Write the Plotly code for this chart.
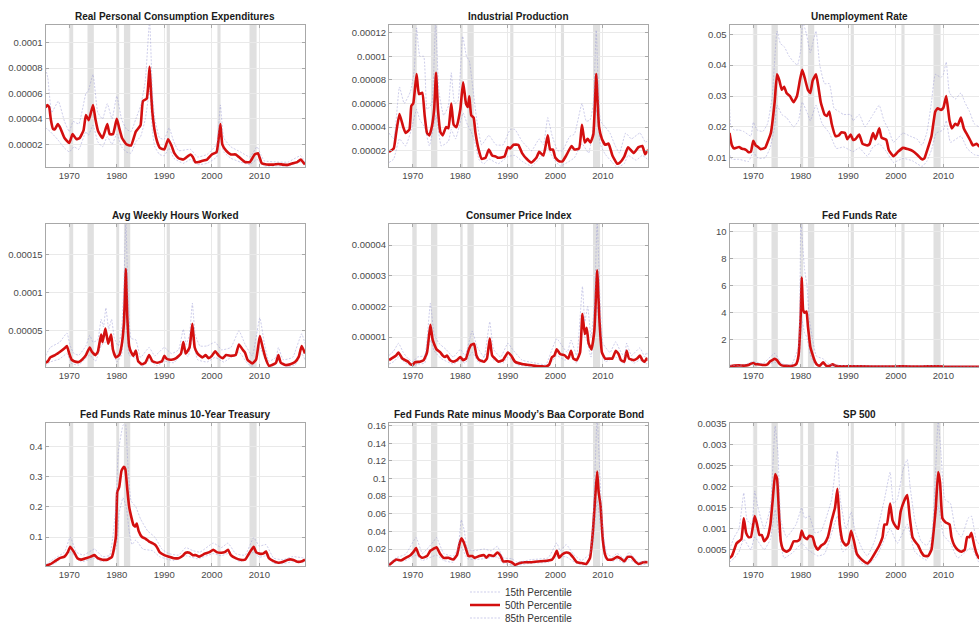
import plotly.graph_objects as go

# ---------------- data ----------------
RECESSIONS = [(1969.92, 1970.83), (1973.83, 1975.17), (1980.0, 1980.5),
              (1981.5, 1982.83), (1990.5, 1991.17), (2001.17, 2001.83),
              (2007.92, 2009.42)]

X_TICKS = [1970, 1980, 1990, 2000, 2010]

# Real Personal Consumption Expenditures (units of 1e-6)
pce_p15 = [(1965.0,33),(1966.0,30),(1967.5,24),(1969.0,17),(1970.0,14),(1971.0,18),(1972.0,16),(1973.5,30),(1974.0,27),(1975.0,35),(1976.0,22),(1977.0,18),(1978.0,26),(1979.0,20),(1980.0,28),(1981.0,18),(1982.0,14),(1983.0,13),(1984.0,22),(1985.0,26),(1986.0,40),(1986.9,62),(1987.5,30),(1988.0,18),(1989.0,12),(1990.0,11),(1991.0,17),(1992.0,9),(1994.0,5),(1995.5,8),(1997.0,4),(1999.0,5),(2001.0,10),(2001.8,27),(2002.5,14),(2004.0,9),(2006.0,6),(2008.0,4),(2009.5,8),(2011.0,3),(2014.0,3),(2016.0,2.8),(2018.7,6),(2019.6,3)]
pce_p50 = [(1965.0,49),(1965.4,51),(1965.8,49),(1966.1,40),(1966.6,32),(1967.0,32),(1967.6,36),(1968.1,33),(1969.0,25),(1970.0,21),(1970.7,28),(1971.5,24),(1972.2,25),(1973.0,31),(1973.5,43),(1974.1,39),(1975.0,51),(1975.5,40),(1976.1,30),(1977.0,25),(1978.0,36),(1978.5,28),(1979.2,28),(1980.0,40),(1980.5,33),(1981.1,25),(1982.0,20),(1983.0,19),(1984.0,30),(1985.0,35),(1985.5,54),(1986.3,56),(1986.9,81),(1987.2,62),(1987.5,45),(1988.0,30),(1988.5,22),(1989.1,17),(1990.0,16),(1990.8,24),(1991.5,19),(1992.1,13),(1993.0,9),(1994.0,8),(1995.5,12),(1996.0,10),(1996.5,6),(1997.2,6),(1998.0,7),(1999.0,8),(2000.0,12),(2001.0,14),(2001.8,36),(2002.2,20),(2003.0,15),(2004.0,12),(2005.0,12),(2006.0,9),(2007.0,6),(2008.0,6),(2009.0,12),(2009.7,13),(2010.1,9),(2010.5,5),(2011.0,4.5),(2012.0,4),(2013.0,4),(2014.0,4.5),(2015.0,4),(2016.0,3.8),(2017.0,5),(2018.0,6),(2018.7,8),(2019.6,4)]
pce_p85 = [(1965.0,80),(1965.5,72),(1966.3,45),(1967.7,54),(1969.0,38),(1970.0,30),(1970.8,38),(1972.0,36),(1973.5,60),(1974.0,62),(1975.0,75),(1976.0,45),(1977.0,40),(1978.0,52),(1979.0,40),(1980.0,58),(1981.0,40),(1982.0,32),(1983.0,30),(1984.0,40),(1985.0,50),(1986.0,70),(1986.9,118),(1987.5,60),(1988.0,40),(1989.0,25),(1990.0,24),(1991.0,33),(1992.0,22),(1993.0,15),(1995.5,16),(1997.0,10),(1999.0,12),(2001.0,20),(2001.8,51),(2002.5,25),(2004.0,18),(2006.0,14),(2008.0,10),(2009.5,18),(2010.3,12),(2011.0,7),(2014.0,6),(2016.0,6),(2018.7,11),(2019.6,6)]

# Industrial Production (1e-6)
ip_p15 = [(1965.0,10),(1966.0,13),(1967.2,30),(1968.5,24),(1969.7,38),(1970.8,55),(1971.5,46),(1972.5,40),(1973.5,24),(1974.9,50),(1976.0,24),(1977.5,28),(1978.1,38),(1979.0,30),(1980.6,52),(1981.5,42),(1982.3,36),(1983.0,28),(1984.0,12),(1985.0,9),(1986.0,13),(1988.0,9),(1990.0,15),(1991.5,16),(1993.0,11),(1995.0,7),(1996.6,13),(1998.4,22),(1999.5,14),(2001.0,7),(2002.5,10),(2004.0,14),(2005.6,26),(2007.0,18),(2008.6,55),(2009.5,25),(2010.5,17),(2012.0,10),(2013.0,6),(2014.5,9),(2015.3,16),(2017.0,12),(2018.3,16),(2019.6,12)]
ip_p50 = [(1965.0,19),(1966.0,22),(1966.5,35),(1967.2,51),(1968.0,40),(1968.5,35),(1969.3,38),(1969.7,58),(1970.1,60),(1970.8,85),(1971.3,68),(1972.0,69),(1972.5,50),(1973.0,35),(1973.5,33),(1974.0,40),(1974.5,55),(1974.9,86),(1975.3,55),(1975.8,36),(1976.3,33),(1977.0,40),(1977.5,39),(1978.1,60),(1978.6,42),(1979.2,40),(1980.0,55),(1980.6,78),(1981.2,60),(1981.6,57),(1981.9,66),(1982.3,50),(1982.8,48),(1983.2,35),(1983.8,22),(1984.5,13),(1985.3,14),(1986.0,21),(1986.7,16),(1987.5,15),(1988.0,14),(1989.3,15),(1990.0,23),(1990.5,22),(1991.2,25),(1992.2,25),(1993.0,18),(1994.0,13),(1995.0,10),(1996.0,14),(1996.6,19),(1997.5,16),(1998.4,33),(1998.9,21),(1999.5,21),(2000.0,14),(2000.8,11),(2001.5,11),(2002.3,16),(2003.4,24),(2004.0,21),(2005.0,22),(2005.6,42),(2006.2,27),(2006.8,30),(2007.4,27),(2008.0,34),(2008.6,85),(2009.2,40),(2009.8,30),(2010.5,25),(2011.2,26),(2012.0,16),(2013.0,9),(2013.6,10),(2014.5,15),(2015.3,23),(2016.5,18),(2017.5,23),(2018.3,24),(2018.9,17),(2019.6,21)]
ip_p85 = [(1965.0,35),(1966.0,30),(1967.2,74),(1968.2,60),(1969.5,70),(1970.3,88),(1970.8,124),(1971.5,100),(1972.3,100),(1973.0,55),(1974.0,60),(1974.8,130),(1975.5,70),(1976.5,50),(1977.5,58),(1978.1,86),(1978.8,60),(1979.5,62),(1980.5,117),(1981.3,100),(1981.9,96),(1982.5,78),(1983.5,45),(1984.5,25),(1986.0,33),(1987.5,25),(1989.0,25),(1990.5,38),(1991.5,38),(1993.0,28),(1995.0,20),(1996.6,30),(1997.5,25),(1998.4,48),(1999.3,33),(2000.5,20),(2001.5,20),(2003.0,32),(2004.0,34),(2005.6,60),(2006.5,45),(2007.3,46),(2008.0,60),(2008.6,122),(2009.5,45),(2010.5,40),(2011.5,35),(2012.5,25),(2013.5,18),(2014.8,35),(2016.0,30),(2017.8,35),(2019.0,27),(2019.6,30)]

# Unemployment Rate
ur_p15 = [(1965.0,0.011),(1965.5,0.0095),(1967.0,0.0095),(1969.0,0.0088),(1970.0,0.0118),(1971.0,0.0098),(1972.5,0.010),(1973.5,0.013),(1974.5,0.020),(1975.0,0.027),(1976.0,0.024),(1977.0,0.023),(1978.5,0.020),(1979.5,0.022),(1980.3,0.028),(1981.5,0.024),(1982.0,0.022),(1983.2,0.027),(1984.5,0.021),(1986.0,0.018),(1987.5,0.013),(1989.0,0.0135),(1991.0,0.012),(1992.3,0.0132),(1994.0,0.0105),(1995.2,0.0135),(1996.5,0.0145),(1998.0,0.012),(1999.5,0.0085),(2001.5,0.0098),(2003.5,0.009),(2005.5,0.0072),(2006.5,0.0088),(2007.5,0.0125),(2008.5,0.018),(2010.0,0.019),(2010.6,0.022),(2011.5,0.015),(2013.7,0.017),(2015.0,0.013),(2016.5,0.011),(2018.0,0.0105),(2019.6,0.009)]
ur_p50 = [(1965.0,0.018),(1965.5,0.014),(1966.0,0.013),(1967.0,0.0135),(1967.5,0.013),(1968.0,0.0128),(1968.5,0.0125),(1969.0,0.0118),(1969.5,0.012),(1970.0,0.0155),(1970.5,0.014),(1971.0,0.0135),(1971.5,0.0128),(1972.5,0.0132),(1973.0,0.015),(1973.7,0.018),(1974.5,0.028),(1975.0,0.037),(1975.5,0.035),(1976.0,0.032),(1976.5,0.033),(1977.0,0.031),(1977.7,0.030),(1978.5,0.028),(1979.2,0.030),(1979.8,0.035),(1980.3,0.0385),(1980.8,0.036),(1981.5,0.032),(1982.0,0.031),(1982.5,0.035),(1983.2,0.037),(1983.7,0.033),(1984.2,0.028),(1985.0,0.024),(1985.5,0.0235),(1986.0,0.025),(1986.5,0.021),(1987.3,0.017),(1988.0,0.0172),(1988.5,0.0182),(1989.3,0.018),(1989.8,0.016),(1990.5,0.0175),(1991.0,0.0158),(1991.5,0.016),(1992.3,0.0175),(1993.0,0.0145),(1994.0,0.014),(1994.5,0.0145),(1995.2,0.018),(1995.7,0.016),(1996.5,0.0195),(1997.0,0.0165),(1998.0,0.0158),(1998.5,0.0125),(1999.5,0.0105),(2000.5,0.012),(2001.5,0.0132),(2002.5,0.0128),(2003.5,0.0122),(2004.5,0.011),(2005.5,0.0095),(2006.0,0.0098),(2006.5,0.012),(2007.5,0.017),(2008.3,0.025),(2008.8,0.026),(2009.5,0.0255),(2010.0,0.0262),(2010.6,0.030),(2011.3,0.022),(2011.8,0.0195),(2012.5,0.021),(2013.0,0.0205),(2013.7,0.023),(2014.3,0.0195),(2015.0,0.0175),(2015.7,0.0155),(2016.2,0.014),(2017.0,0.0145),(2018.0,0.013),(2019.6,0.012)]
ur_p85 = [(1965.0,0.027),(1965.3,0.020),(1966.0,0.019),(1967.0,0.019),(1968.0,0.0185),(1969.5,0.017),(1970.0,0.0215),(1970.8,0.019),(1972.0,0.0185),(1973.0,0.021),(1974.0,0.030),(1975.0,0.051),(1975.7,0.047),(1976.5,0.046),(1977.5,0.043),(1978.5,0.041),(1979.3,0.040),(1980.0,0.045),(1980.4,0.054),(1981.2,0.050),(1982.0,0.044),(1982.5,0.047),(1983.2,0.051),(1984.0,0.040),(1985.0,0.034),(1986.0,0.034),(1987.0,0.026),(1988.0,0.025),(1989.0,0.024),(1990.5,0.024),(1991.0,0.022),(1992.3,0.024),(1993.5,0.020),(1995.2,0.024),(1996.5,0.027),(1997.5,0.022),(1998.5,0.019),(1999.5,0.015),(2001.5,0.018),(2003.0,0.017),(2004.5,0.016),(2005.5,0.014),(2006.5,0.018),(2007.5,0.028),(2008.3,0.037),(2009.5,0.036),(2010.0,0.037),(2010.6,0.041),(2011.3,0.031),(2012.5,0.029),(2013.7,0.031),(2014.5,0.028),(2015.5,0.025),(2016.5,0.021),(2017.5,0.020),(2019.6,0.018)]

# Avg Weekly Hours Worked (1e-6)
hw_p15 = [(1965.0,4),(1966.0,9),(1968.0,13),(1969.5,20),(1970.5,7),(1972.0,5),(1974.3,18),(1975.5,10),(1976.7,30),(1977.6,35),(1978.8,30),(1980.0,9),(1981.0,18),(1981.9,85),(1982.6,18),(1984.0,14),(1985.3,3),(1986.8,11),(1988.5,4),(1990.0,10),(1992.0,8),(1994.0,22),(1995.0,16),(1995.9,40),(1997.0,12),(1999.0,9),(2000.7,15),(2002.5,9),(2005.7,22),(2007.5,7),(2008.5,3.5),(2010.1,28),(2011.5,8),(2012.5,2.8),(2014.0,11),(2015.5,3),(2017.5,5),(2018.9,20),(2019.6,12)]
hw_p50 = [(1965.0,8),(1965.5,10),(1966.0,15),(1967.0,18),(1967.5,20),(1968.0,22),(1969.0,27),(1969.5,30),(1970.0,20),(1970.5,12),(1971.0,10),(1972.0,9),(1973.0,14),(1973.5,18),(1974.3,28),(1974.8,22),(1975.5,18),(1976.0,22),(1976.7,45),(1977.0,35),(1977.6,53),(1978.2,33),(1978.8,45),(1979.2,25),(1979.8,15),(1980.5,18),(1981.0,30),(1981.5,60),(1981.9,131),(1982.2,70),(1982.6,30),(1983.0,22),(1983.5,17),(1984.0,24),(1984.5,10),(1985.3,6),(1986.0,8),(1986.8,18),(1987.5,10),(1988.5,8),(1989.5,10),(1990.0,17),(1990.5,13),(1991.5,12),(1992.5,14),(1993.5,20),(1994.0,35),(1994.5,20),(1995.3,28),(1995.9,59),(1996.4,28),(1997.0,20),(1998.0,15),(1998.7,18),(1999.3,14),(2000.0,17),(2000.7,23),(2001.5,17),(2002.3,14),(2003.0,18),(2004.0,17),(2005.0,18),(2005.7,32),(2006.5,25),(2007.0,21),(2007.5,12),(2008.5,7),(2009.3,12),(2010.1,43),(2010.7,28),(2011.3,14),(2012.0,4),(2013.0,6),(2013.5,8),(2014.0,18),(2014.5,8),(2015.5,5),(2016.5,6),(2017.5,9),(2018.3,16),(2018.9,30),(2019.6,20)]
hw_p85 = [(1965.0,17),(1966.0,28),(1968.0,35),(1969.5,47),(1970.2,30),(1971.0,20),(1972.0,18),(1973.5,30),(1974.3,44),(1975.0,35),(1976.0,38),(1976.7,65),(1977.2,55),(1977.7,80),(1978.3,52),(1978.9,65),(1979.5,40),(1980.3,30),(1981.0,50),(1981.5,110),(1981.9,195),(1982.4,90),(1983.0,40),(1984.0,38),(1985.0,15),(1986.8,28),(1988.0,17),(1990.0,28),(1991.5,20),(1993.0,25),(1994.0,52),(1994.6,32),(1995.3,45),(1995.9,86),(1996.5,45),(1997.5,30),(1999.0,30),(2000.7,35),(2002.0,25),(2004.0,28),(2005.7,50),(2007.0,32),(2008.5,17),(2010.1,67),(2011.0,35),(2012.0,10),(2013.5,15),(2014.0,28),(2015.0,12),(2017.0,15),(2018.9,46),(2019.6,33)]

# Consumer Price Index (1e-6)
cpi_p15 = [(1965.0,1.2),(1966.0,2),(1967.0,3.5),(1968.5,1.5),(1970.0,0.5),(1971.0,1.2),(1972.5,1.5),(1973.7,9),(1974.5,5.5),(1976.0,3),(1978.5,1.2),(1980.0,2.5),(1981.0,1.5),(1982.5,5),(1984.0,1.5),(1986.2,6),(1987.0,2.5),(1989.0,1.5),(1990.0,3.5),(1992.0,1),(1995.0,0.4),(1998.0,0.3),(1999.5,2.5),(2000.3,4),(2002.0,2.5),(2003.3,3.5),(2004.5,1.5),(2005.7,11),(2006.6,9),(2007.5,3.5),(2008.8,20),(2009.5,8),(2010.5,2),(2012.7,3.5),(2014.5,1.2),(2015.0,3.5),(2016.5,1.5),(2017.8,2.5),(2019.0,1.3),(2019.6,1.5)]
cpi_p50 = [(1965.0,2.5),(1965.5,3),(1966.5,4),(1967.0,5),(1967.8,3),(1969.0,2),(1969.5,1.2),(1970.0,1),(1970.5,1.8),(1971.5,2),(1972.3,2.5),(1973.0,5),(1973.7,14),(1974.2,9),(1975.0,6),(1975.8,5),(1976.3,4),(1976.8,3.5),(1977.2,4),(1977.8,2.5),(1978.5,2),(1979.3,2.5),(1980.0,3.5),(1980.6,2.5),(1981.2,3),(1981.8,6),(1982.3,7.5),(1982.9,7.8),(1983.4,4),(1984.0,2.5),(1985.0,2),(1985.6,3),(1986.2,9.5),(1986.7,4),(1987.3,3),(1988.0,2),(1989.0,2.5),(1990.0,5),(1990.7,4),(1991.5,2),(1993.0,1.2),(1994.0,1),(1995.0,0.8),(1996.0,0.6),(1997.0,0.5),(1998.0,0.4),(1998.7,1),(1999.3,3.5),(1999.8,4),(2000.3,6),(2001.0,4.5),(2002.0,4),(2002.7,3),(2003.3,5.5),(2003.8,3),(2004.5,2.5),(2005.2,5),(2005.7,17.5),(2006.2,11),(2006.6,13),(2007.0,8),(2007.6,6),(2008.2,12),(2008.8,31.8),(2009.3,15),(2009.8,5),(2010.5,3),(2011.5,3),(2012.0,3),(2012.7,5.5),(2013.3,4.5),(2013.8,2.5),(2014.5,2),(2015.0,5.5),(2015.5,3),(2016.5,2.5),(2017.2,3),(2017.8,4),(2018.3,2.5),(2018.8,2),(2019.2,3),(2019.6,2.5)]
cpi_p85 = [(1965.0,4),(1966.0,5.5),(1967.0,8),(1968.0,5),(1969.0,3),(1970.0,2),(1971.0,3.5),(1972.5,4),(1973.7,21),(1974.5,11),(1975.5,8),(1977.0,6),(1978.5,3.5),(1980.0,6),(1981.0,4),(1982.5,12),(1983.5,7),(1985.0,3.5),(1986.2,15),(1987.0,6),(1988.5,3.5),(1990.0,8),(1991.0,6),(1993.0,2.5),(1996.0,1.5),(1998.0,1),(1999.3,6),(2000.3,9.5),(2001.5,7),(2002.5,5),(2003.3,9),(2004.5,4),(2005.7,26.5),(2006.2,15),(2006.8,20),(2007.5,10),(2008.2,20),(2008.8,48),(2009.4,22),(2010.0,8),(2011.5,5),(2012.7,8.5),(2013.5,6),(2014.5,3.5),(2015.0,8),(2016.0,4),(2017.8,6.5),(2018.8,3.5),(2019.2,5),(2019.6,4)]

# Fed Funds Rate
ff_p15 = [(1965.0,0.02),(1970.0,0.18),(1972.0,0.08),(1974.5,0.35),(1977.0,0.04),(1979.5,0.4),(1980.2,3.5),(1980.8,2.5),(1981.3,2.2),(1982.0,0.9),(1983.0,0.2),(1984.7,0.2),(1986.0,0.03),(1990.0,0.02),(2019.6,0.01)]
ff_p50 = [(1965.0,0.05),(1966.0,0.1),(1967.0,0.12),(1968.0,0.1),(1969.0,0.15),(1969.5,0.25),(1970.0,0.3),(1970.5,0.2),(1971.0,0.2),(1972.0,0.15),(1973.0,0.2),(1973.5,0.4),(1974.0,0.5),(1974.5,0.6),(1975.0,0.5),(1975.5,0.25),(1976.0,0.12),(1977.0,0.08),(1978.0,0.08),(1979.0,0.2),(1979.5,0.8),(1980.0,4.0),(1980.2,6.6),(1980.5,4.2),(1980.8,4.0),(1981.2,4.1),(1981.5,3.0),(1982.0,1.5),(1982.5,0.9),(1983.0,0.4),(1983.5,0.15),(1984.0,0.1),(1984.7,0.35),(1985.3,0.1),(1986.0,0.08),(1986.7,0.2),(1987.3,0.1),(1988.0,0.06),(1990.0,0.05),(1995.0,0.04),(2000.0,0.04),(2001.5,0.05),(2005.0,0.03),(2008.5,0.06),(2010.0,0.03),(2015.0,0.02),(2019.6,0.02)]
ff_p85 = [(1965.0,0.1),(1968.0,0.15),(1970.0,0.4),(1972.0,0.25),(1974.5,1.0),(1976.0,0.25),(1978.0,0.15),(1979.5,1.5),(1980.0,10.8),(1980.4,9.0),(1980.8,7.2),(1981.3,6.0),(1981.8,3.5),(1982.5,2.0),(1983.3,0.8),(1984.7,0.6),(1986.0,0.2),(1988.0,0.12),(1990.0,0.1),(2000.0,0.07),(2008.5,0.1),(2019.6,0.04)]

# Fed Funds Rate minus 10-Year Treasury
ft_p15 = [(1965.0,0.003),(1967.0,0.013),(1970.2,0.05),(1972.5,0.018),(1975.3,0.03),(1977.0,0.018),(1979.8,0.06),(1980.5,0.18),(1981.3,0.23),(1982.0,0.2),(1982.6,0.12),(1983.2,0.075),(1984.0,0.09),(1985.5,0.06),(1987.5,0.055),(1989.0,0.035),(1992.0,0.022),(1994.5,0.038),(1997.0,0.028),(2000.3,0.045),(2002.0,0.038),(2003.4,0.045),(2006.0,0.018),(2008.8,0.05),(2010.0,0.033),(2011.4,0.038),(2013.0,0.013),(2015.0,0.012),(2017.0,0.018),(2019.6,0.017)]
ft_p50 = [(1965.0,0.005),(1966.0,0.01),(1967.0,0.02),(1968.0,0.03),(1969.0,0.035),(1969.7,0.05),(1970.2,0.068),(1971.0,0.05),(1971.7,0.03),(1972.5,0.025),(1973.5,0.03),(1974.5,0.035),(1975.3,0.04),(1976.0,0.03),(1977.0,0.025),(1978.0,0.025),(1979.0,0.035),(1979.8,0.1),(1980.1,0.25),(1980.5,0.265),(1981.0,0.32),(1981.5,0.333),(1981.8,0.325),(1982.2,0.26),(1982.6,0.2),(1983.0,0.17),(1983.5,0.14),(1983.9,0.135),(1984.2,0.145),(1984.6,0.12),(1985.3,0.1),(1986.0,0.095),(1986.8,0.085),(1987.5,0.08),(1988.0,0.075),(1988.5,0.065),(1989.0,0.05),(1990.0,0.04),(1991.0,0.035),(1992.0,0.03),(1993.0,0.03),(1994.0,0.04),(1994.5,0.048),(1995.3,0.048),(1996.0,0.04),(1996.7,0.04),(1997.3,0.035),(1998.0,0.04),(1998.5,0.045),(1999.5,0.05),(2000.3,0.058),(2001.0,0.05),(2002.0,0.048),(2002.7,0.05),(2003.4,0.058),(2004.0,0.04),(2005.0,0.03),(2006.0,0.025),(2007.0,0.025),(2008.0,0.05),(2008.8,0.068),(2009.3,0.05),(2010.0,0.045),(2010.8,0.045),(2011.4,0.052),(2012.0,0.03),(2013.0,0.02),(2014.0,0.015),(2015.0,0.018),(2016.0,0.025),(2017.0,0.025),(2018.0,0.018),(2019.0,0.02),(2019.6,0.025)]
ft_p85 = [(1965.0,0.008),(1967.0,0.03),(1969.0,0.05),(1970.2,0.1),(1971.5,0.05),(1973.0,0.04),(1975.3,0.06),(1977.0,0.035),(1978.5,0.04),(1979.8,0.2),(1980.3,0.38),(1981.3,0.47),(1981.8,0.48),(1982.3,0.35),(1983.0,0.22),(1984.0,0.2),(1985.0,0.16),(1986.5,0.12),(1988.0,0.1),(1989.5,0.06),(1991.0,0.045),(1993.0,0.04),(1994.5,0.065),(1996.0,0.055),(1997.5,0.05),(2000.3,0.08),(2002.0,0.065),(2003.4,0.08),(2005.0,0.045),(2007.0,0.04),(2008.8,0.098),(2010.0,0.07),(2011.4,0.075),(2013.0,0.03),(2015.0,0.025),(2017.0,0.035),(2019.6,0.03)]

# Fed Funds Rate minus Moody's Baa Corporate Bond
fb_p15 = [(1965.0,0.001),(1966.5,0.006),(1968.5,0.007),(1970.7,0.013),(1972.0,0.007),(1975.0,0.013),(1976.5,0.007),(1978.5,0.005),(1980.2,0.022),(1981.5,0.009),(1983.0,0.008),(1985.0,0.009),(1987.8,0.011),(1989.0,0.004),(1991.5,0.0015),(1995.0,0.004),(1998.5,0.005),(2000.3,0.012),(2002.3,0.011),(2004.5,0.0035),(2006.5,0.002),(2007.9,0.025),(2008.8,0.075),(2009.5,0.045),(2010.5,0.009),(2012.0,0.006),(2013.0,0.008),(2014.5,0.004),(2015.5,0.008),(2017.5,0.002),(2019.6,0.003)]
fb_p50 = [(1965.0,0.002),(1965.5,0.004),(1966.5,0.008),(1967.5,0.007),(1968.5,0.01),(1969.5,0.013),(1970.2,0.017),(1970.7,0.021),(1971.3,0.013),(1972.0,0.01),(1973.0,0.012),(1973.7,0.018),(1974.3,0.02),(1975.0,0.022),(1975.7,0.015),(1976.5,0.01),(1977.5,0.01),(1978.5,0.008),(1979.3,0.013),(1979.8,0.025),(1980.2,0.032),(1980.7,0.028),(1981.2,0.02),(1981.7,0.012),(1982.5,0.012),(1983.0,0.01),(1984.0,0.012),(1985.0,0.013),(1985.5,0.01),(1986.0,0.013),(1987.0,0.012),(1987.8,0.016),(1988.5,0.012),(1989.0,0.006),(1990.0,0.006),(1990.8,0.005),(1991.5,0.002),(1992.5,0.004),(1993.5,0.005),(1995.0,0.005),(1997.0,0.006),(1998.5,0.007),(1999.3,0.008),(1999.8,0.012),(2000.3,0.018),(2000.8,0.01),(2001.5,0.014),(2002.3,0.016),(2003.0,0.015),(2003.8,0.01),(2004.5,0.005),(2005.5,0.004),(2006.5,0.003),(2007.3,0.01),(2007.9,0.04),(2008.4,0.08),(2008.8,0.108),(2009.1,0.085),(2009.5,0.07),(2010.0,0.03),(2010.5,0.013),(2011.0,0.008),(2012.0,0.008),(2013.0,0.011),(2013.8,0.009),(2014.5,0.006),(2015.2,0.011),(2016.0,0.011),(2016.8,0.006),(2017.5,0.003),(2018.5,0.005),(2019.6,0.005)]
fb_p85 = [(1965.0,0.003),(1966.5,0.01),(1968.5,0.014),(1970.7,0.033),(1972.0,0.015),(1973.0,0.02),(1974.3,0.028),(1975.0,0.033),(1976.5,0.015),(1978.5,0.012),(1979.5,0.02),(1980.2,0.053),(1980.8,0.042),(1981.5,0.02),(1983.0,0.018),(1985.0,0.02),(1986.5,0.018),(1987.8,0.023),(1989.0,0.01),(1990.8,0.009),(1992.0,0.005),(1995.0,0.008),(1998.5,0.01),(2000.3,0.027),(2001.0,0.018),(2002.3,0.025),(2003.8,0.014),(2005.5,0.007),(2007.3,0.015),(2008.0,0.06),(2008.8,0.17),(2009.4,0.1),(2010.0,0.04),(2010.8,0.015),(2012.0,0.011),(2013.0,0.015),(2014.5,0.009),(2015.5,0.016),(2017.5,0.005),(2019.6,0.007)]

# SP 500 (1e-4)
sp_p15 = [(1965.0,2),(1966.0,3),(1967.0,4.5),(1968.0,7.5),(1969.5,5),(1970.3,8),(1972.3,5),(1973.6,7.5),(1974.6,14.5),(1975.5,8),(1976.5,3),(1978.5,4.5),(1980.2,6.5),(1981.5,5),(1983.6,3.5),(1985.0,4),(1987.7,13),(1988.8,4.5),(1990.6,6),(1992.5,2),(1994.0,1.2),(1996.0,3.5),(1998.8,10),(2000.3,6.5),(2002.4,11),(2004.0,4.5),(2006.5,2.5),(2008.9,15.5),(2010.0,8.5),(2011.5,6.5),(2013.0,3),(2015.9,5.5),(2017.5,2),(2019.6,3)]
sp_p50 = [(1965.0,3),(1965.5,3.5),(1966.0,5),(1966.5,6.5),(1967.0,7),(1967.5,7.5),(1968.0,12.5),(1968.5,9),(1969.0,8),(1969.5,8),(1970.3,13),(1970.8,11),(1971.3,8.5),(1971.8,8.5),(1972.3,7),(1973.0,8),(1973.6,11),(1974.1,17),(1974.6,23),(1975.0,22),(1975.4,14),(1975.8,7),(1976.3,5),(1977.0,4.5),(1977.7,5),(1978.5,7),(1979.2,7),(1979.8,7.5),(1980.2,9.5),(1980.7,8),(1981.3,7.5),(1981.8,8.3),(1982.5,8),(1983.0,6),(1983.6,5),(1984.3,6),(1985.0,6.5),(1985.7,8),(1986.5,12),(1987.2,15),(1987.7,19.5),(1988.2,11),(1988.8,7),(1989.5,6),(1990.0,6.5),(1990.6,9.5),(1991.2,7),(1991.8,4),(1992.5,3),(1993.5,2),(1994.0,1.7),(1994.7,2.5),(1995.5,4),(1996.5,6),(1997.2,8),(1997.6,11),(1998.1,11),(1998.8,16),(1999.3,12),(2000.0,10.5),(2000.5,10),(2001.0,14),(2001.7,16.5),(2002.4,18),(2002.9,13),(2003.5,8),(2004.0,7),(2004.7,6),(2005.3,4.5),(2006.0,3.5),(2006.8,3.5),(2007.5,5),(2008.0,10),(2008.4,15),(2008.9,23.5),(2009.3,21),(2009.8,12.5),(2010.5,11.5),(2011.3,11),(2011.7,8),(2012.3,6),(2013.0,5),(2013.8,4.5),(2014.5,5),(2015.0,8),(2015.5,8),(2015.9,9),(2016.5,6),(2017.0,4),(2017.5,3),(2018.0,3),(2019.0,6),(2019.6,5)]
sp_p85 = [(1965.0,5),(1966.0,8),(1967.0,10),(1968.0,18.5),(1968.7,12),(1969.7,11),(1970.3,19),(1971.0,15),(1972.3,10),(1973.6,15),(1974.6,34.5),(1975.2,28),(1975.8,12),(1977.0,8),(1979.0,11),(1980.2,15),(1980.8,12.5),(1981.8,13),(1983.0,9),(1984.3,9.5),(1986.5,17),(1987.7,28.5),(1988.3,17),(1989.5,10),(1990.6,14),(1991.5,9),(1993.0,5),(1994.0,3.5),(1995.5,7),(1997.6,17),(1998.8,23.5),(1999.5,16),(2000.3,17),(2001.5,24),(2002.4,26.5),(2003.0,20),(2004.0,12),(2005.3,7),(2006.5,6),(2007.5,8),(2008.3,22),(2008.9,36),(2009.5,28),(2010.3,17),(2011.5,16),(2012.5,10),(2013.8,8),(2015.2,12.5),(2015.9,13),(2017.0,7),(2018.0,6),(2019.6,8)]

PANELS = [
    dict(title="Real Personal Consumption Expenditures", unit=1e-6,
         p15=pce_p15, p50=pce_p50, p85=pce_p85, yr=[2.1e-6, 1.14e-4],
         ticks=[2e-5, 4e-5, 6e-5, 8e-5, 1e-4],
         labels=["0.00002", "0.00004", "0.00006", "0.00008", "0.0001"]),
    dict(title="Industrial Production", unit=1e-6,
         p15=ip_p15, p50=ip_p50, p85=ip_p85, yr=[6.2e-6, 1.265e-4],
         ticks=[2e-5, 4e-5, 6e-5, 8e-5, 1e-4, 1.2e-4],
         labels=["0.00002", "0.00004", "0.00006", "0.00008", "0.0001", "0.00012"]),
    dict(title="Unemployment Rate", unit=1.0,
         p15=ur_p15, p50=ur_p50, p85=ur_p85, yr=[0.007, 0.053],
         ticks=[0.01, 0.02, 0.03, 0.04, 0.05],
         labels=["0.01", "0.02", "0.03", "0.04", "0.05"]),
    dict(title="Avg Weekly Hours Worked", unit=1e-6,
         p15=hw_p15, p50=hw_p50, p85=hw_p85, yr=[2.4e-6, 1.9e-4],
         ticks=[5e-5, 1e-4, 1.5e-4],
         labels=["0.00005", "0.0001", "0.00015"]),
    dict(title="Consumer Price Index", unit=1e-6,
         p15=cpi_p15, p50=cpi_p50, p85=cpi_p85, yr=[0.25e-6, 4.69e-5],
         ticks=[1e-5, 2e-5, 3e-5, 4e-5],
         labels=["0.00001", "0.00002", "0.00003", "0.00004"]),
    dict(title="Fed Funds Rate", unit=1.0,
         p15=ff_p15, p50=ff_p50, p85=ff_p85, yr=[0.0, 10.55],
         ticks=[2, 4, 6, 8, 10],
         labels=["2", "4", "6", "8", "10"]),
    dict(title="Fed Funds Rate minus 10-Year Treasury", unit=1.0,
         p15=ft_p15, p50=ft_p50, p85=ft_p85, yr=[0.004, 0.478],
         ticks=[0.1, 0.2, 0.3, 0.4],
         labels=["0.1", "0.2", "0.3", "0.4"]),
    dict(title="Fed Funds Rate minus Moody\u2019s Baa Corporate Bond", unit=1.0,
         p15=fb_p15, p50=fb_p50, p85=fb_p85, yr=[0.0007, 0.163],
         ticks=[0.02, 0.04, 0.06, 0.08, 0.1, 0.12, 0.14, 0.16],
         labels=["0.02", "0.04", "0.06", "0.08", "0.1", "0.12", "0.14", "0.16"]),
    dict(title="SP 500", unit=1e-4,
         p15=sp_p15, p50=sp_p50, p85=sp_p85, yr=[0.00011, 0.00352],
         ticks=[5e-4, 1e-3, 1.5e-3, 2e-3, 2.5e-3, 3e-3, 3.5e-3],
         labels=["0.0005", "0.001", "0.0015", "0.002", "0.0025", "0.003", "0.0035"]),
]

# ---------------- layout geometry (pixels) ----------------
W, H = 979, 623
COLS = [(45.5, 305.0), (389.0, 647.5), (729.5, 979.0)]
ROWS = [(25.0, 167.0), (224.0, 367.0), (423.0, 566.0)]
PX_PER_YEAR = 259.5 / (2019.6 - 1965.0)
XR_START = 1965.0

FONT = "Arial, Liberation Sans, Helvetica, sans-serif"
RED = "#d30f0f"
BAND = "rgba(150,150,210,0.6)"
AXIS = "#a8a8a8"
GRID = "#e9e9e9"
SHADE = "#e0e0e0"

fig = go.Figure()
layout = {}
shapes = []
annotations = []

for i, p in enumerate(PANELS):
    r, c = divmod(i, 3)
    n = i + 1
    xa = "x" if n == 1 else f"x{n}"
    ya = "y" if n == 1 else f"y{n}"
    x0, x1 = COLS[c]
    top, bot = ROWS[r]
    xr_end = XR_START + (x1 - x0) / PX_PER_YEAR

    for key, name, leg, style in [
        ("p15", "15th Percentile", "legend", dict(color=BAND, width=0.8, dash="2px,1.5px")),
        ("p50", "50th Percentile", "legend2", dict(color=RED, width=2.6)),
        ("p85", "85th Percentile", "legend3", dict(color=BAND, width=0.8, dash="2px,1.5px")),
    ]:
        pts = p[key]
        fig.add_trace(go.Scatter(
            x=[t for t, _ in pts], y=[v * p["unit"] for _, v in pts],
            mode="lines", line=dict(shape="spline", smoothing=0.4, **style),
            name=name, legend=leg, showlegend=(i == 0),
            xaxis=xa, yaxis=ya, hoverinfo="skip"))

    right_col = (c == 2)
    layout["xaxis" if n == 1 else f"xaxis{n}"] = dict(
        domain=[x0 / W, min(x1 / W, 1.0)], range=[XR_START, xr_end],
        anchor=ya, tickvals=X_TICKS, ticktext=[str(t) for t in X_TICKS],
        showgrid=True, gridcolor=GRID, gridwidth=1, zeroline=False,
        showline=True, linecolor=AXIS, linewidth=1, mirror="ticks",
        ticks="inside", ticklen=3, tickcolor=AXIS,
        tickfont=dict(family=FONT, size=9.5, color="#4a4a4a"))
    layout["yaxis" if n == 1 else f"yaxis{n}"] = dict(
        domain=[1 - bot / H, 1 - top / H], range=p["yr"], anchor=xa,
        tickvals=p["ticks"], ticktext=p["labels"],
        showgrid=True, gridcolor=GRID, gridwidth=1, zeroline=False,
        showline=True, linecolor=AXIS, linewidth=1,
        mirror=False if right_col else "ticks",
        ticks="inside", ticklen=3, tickcolor=AXIS,
        tickfont=dict(family=FONT, size=9.5, color="#4a4a4a"))

    for (a, b) in RECESSIONS:
        shapes.append(dict(type="rect", xref=xa, yref=f"{ya} domain",
                           x0=a, x1=b, y0=0, y1=1, fillcolor=SHADE,
                           line=dict(width=0), layer="below"))

    # title centred over the full axes box (third column box is wider than the page)
    full_w = 259.5
    cx = (x0 + full_w / 2) / W
    annotations.append(dict(text=f"<b>{p['title']}</b>", xref="paper", yref="paper",
                            x=cx, y=1 - (top - 8.5) / H, xanchor="center", yanchor="middle",
                            showarrow=False, font=dict(family=FONT, size=10, color="#1a1a1a")))

leg_common = dict(xanchor="left", yanchor="middle", bgcolor="rgba(0,0,0,0)",
                  borderwidth=0, itemwidth=30,
                  font=dict(family=FONT, size=10, color="#333333"))
layout["legend"] = dict(x=465 / W, y=1 - 592 / H, **leg_common)
layout["legend2"] = dict(x=465 / W, y=1 - 605 / H, **leg_common)
layout["legend3"] = dict(x=465 / W, y=1 - 618 / H, **leg_common)

fig.update_layout(
    width=W, height=H, margin=dict(l=0, r=0, t=0, b=0, autoexpand=False),
    paper_bgcolor="white", plot_bgcolor="white",
    shapes=shapes, annotations=annotations, showlegend=True, **layout)

fig.write_html("out.html")
